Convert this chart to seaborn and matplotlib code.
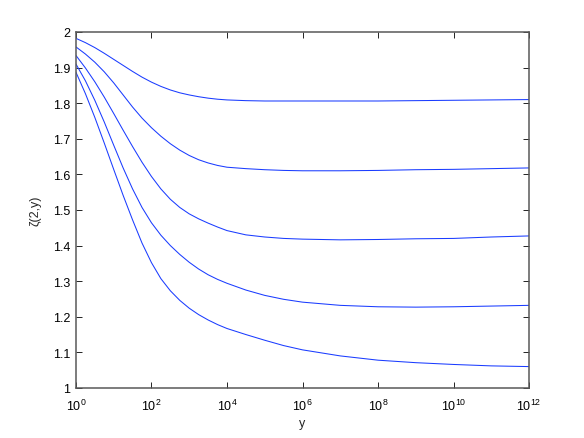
import numpy as np
import pandas as pd
import matplotlib
matplotlib.use("Agg")
import matplotlib.pyplot as plt
import seaborn as sns

# log10 of y (x-axis positions)
exponents = [0, 0.25, 0.5, 0.75, 1, 1.25, 1.5, 1.75, 2, 2.25, 2.5, 2.75, 3, 3.25, 3.5, 3.75,
             4, 4.5, 5, 5.5, 6, 7, 8, 9, 10, 11, 12]

curve_1 = [1.982, 1.970, 1.956, 1.940, 1.923, 1.906, 1.889, 1.873, 1.859, 1.847, 1.837, 1.829,
           1.823, 1.818, 1.814, 1.811, 1.809, 1.807, 1.806, 1.806, 1.806, 1.806, 1.806, 1.807,
           1.808, 1.809, 1.810]
curve_2 = [1.958, 1.938, 1.915, 1.888, 1.857, 1.823, 1.789, 1.758, 1.731, 1.707, 1.686, 1.668,
           1.653, 1.641, 1.632, 1.625, 1.620, 1.616, 1.613, 1.611, 1.610, 1.610, 1.611, 1.613,
           1.614, 1.616, 1.618]
curve_3 = [1.934, 1.899, 1.860, 1.817, 1.771, 1.724, 1.678, 1.634, 1.594, 1.559, 1.530, 1.507,
           1.489, 1.475, 1.463, 1.452, 1.442, 1.430, 1.424, 1.420, 1.418, 1.416, 1.417, 1.419,
           1.420, 1.424, 1.427]
curve_4 = [1.910, 1.863, 1.808, 1.747, 1.682, 1.618, 1.559, 1.507, 1.464, 1.429, 1.400, 1.375,
           1.353, 1.334, 1.318, 1.305, 1.294, 1.275, 1.260, 1.249, 1.241, 1.232, 1.228, 1.227,
           1.228, 1.230, 1.232]
curve_5 = [1.887, 1.827, 1.760, 1.688, 1.614, 1.541, 1.472, 1.407, 1.352, 1.307, 1.273, 1.246,
           1.224, 1.206, 1.191, 1.178, 1.167, 1.150, 1.134, 1.119, 1.107, 1.090, 1.078, 1.071,
           1.066, 1.062, 1.060]

xtick_exps = [0, 2, 4, 6, 8, 10, 12]
xtick_labels = [r"$10^{0}$", r"$10^{2}$", r"$10^{4}$", r"$10^{6}$",
                r"$10^{8}$", r"$10^{10}$", r"$10^{12}$"]
yticks = [1, 1.1, 1.2, 1.3, 1.4, 1.5, 1.6, 1.7, 1.8, 1.9, 2]
ytick_labels = ["1", "1.1", "1.2", "1.3", "1.4", "1.5", "1.6", "1.7", "1.8", "1.9", "2"]

series = {"c1": curve_1, "c2": curve_2, "c3": curve_3, "c4": curve_4, "c5": curve_5}
x_vals = 10.0 ** np.array(exponents)
df = pd.concat([pd.DataFrame({"y": x_vals, "zeta": v, "curve": k}) for k, v in series.items()],
               ignore_index=True)

sns.set_style("white")
plt.rcParams["font.family"] = ["Liberation Sans", "DejaVu Sans"]
plt.rcParams["mathtext.fontset"] = "custom"
plt.rcParams["mathtext.rm"] = "Liberation Sans"
plt.rcParams["mathtext.it"] = "Liberation Sans:italic"

fig = plt.figure(figsize=(5.84, 4.39), dpi=100)
ax = fig.add_axes([0.13, 0.114, 0.776, 0.811])

sns.lineplot(data=df, x="y", y="zeta", hue="curve", units="curve", estimator=None,
             palette=["#1a3cff"] * 5, linewidth=0.75, legend=False, ax=ax, sort=False)

ax.set_xscale("log")
ax.set_xlim(1, 1e12)
ax.set_ylim(1, 2)
ax.set_xticks([10.0 ** e for e in xtick_exps])
ax.set_xticklabels(xtick_labels, fontsize=9)
ax.minorticks_off()
ax.set_yticks(yticks)
ax.set_yticklabels(ytick_labels, fontsize=9)
ax.tick_params(direction="in", length=4, width=0.6, top=True, right=True,
               bottom=True, left=True, colors="black")
ax.tick_params(axis="x", pad=7)
ax.tick_params(axis="y", pad=4)
for s in ax.spines.values():
    s.set_visible(True)
    s.set_color("0.35")
    s.set_linewidth(1.1)

ax.set_xlabel("y", fontsize=9, labelpad=3)
ax.set_ylabel("ζ(2,y)", fontsize=9, labelpad=8)

fig.savefig("out.png", dpi=100)
